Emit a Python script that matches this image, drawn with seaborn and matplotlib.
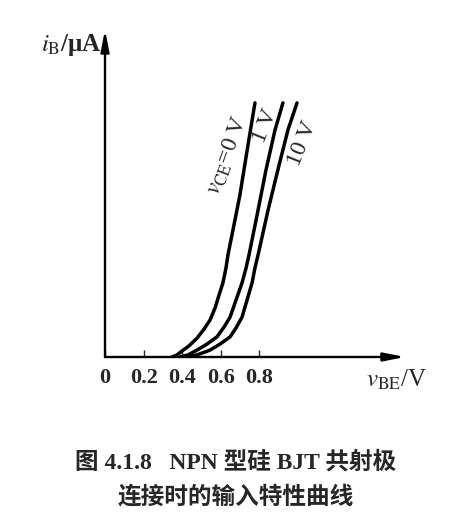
import numpy as np
import pandas as pd
import seaborn as sns
import matplotlib.pyplot as plt

sns.set_style('white')
plt.rcParams['font.family'] = ['Liberation Serif', 'Noto Sans CJK SC']
plt.rcParams['mathtext.fontset'] = 'stix'

# input characteristic curves (v_BE in V, i_B in arbitrary units)
v_ce0 = [0.347, 0.373, 0.399, 0.435, 0.477, 0.513, 0.544, 0.570, 0.591, 0.611,
         0.627, 0.637, 0.663, 0.699, 0.741, 0.777]
i_ce0 = [0.0, 0.7, 2.0, 3.7, 6.3, 9.3, 12.3, 16.3, 20.7, 24.7,
         29.7, 34.0, 42.3, 54.0, 70.7, 84.7]

v_ce1 = [0.389, 0.430, 0.477, 0.528, 0.580, 0.617, 0.648, 0.679, 0.710, 0.731,
         0.746, 0.788, 0.834, 0.881, 0.922]
i_ce1 = [0.0, 0.7, 2.3, 4.3, 6.7, 10.0, 13.3, 19.0, 24.7, 29.7,
         34.0, 47.3, 62.3, 75.7, 84.7]

v_ce10 = [0.425, 0.477, 0.544, 0.596, 0.648, 0.679, 0.710, 0.736, 0.762, 0.777,
          0.793, 0.845, 0.902, 0.948, 0.995]
i_ce10 = [0.0, 0.7, 2.3, 4.3, 6.7, 9.7, 13.3, 19.0, 24.7, 29.7,
          34.0, 49.0, 64.0, 75.7, 84.7]

x_ticks = [0, 0.2, 0.4, 0.6, 0.8]
x_ticklabels = ['0', '0.2', '0.4', '0.6', '0.8']

df = pd.concat([
    pd.DataFrame({'v': v_ce0, 'i': i_ce0, 'vce': '0'}),
    pd.DataFrame({'v': v_ce1, 'i': i_ce1, 'vce': '1'}),
    pd.DataFrame({'v': v_ce10, 'i': i_ce10, 'vce': '10'}),
])

fig = plt.figure(figsize=(4.72, 5.26), dpi=100)
ax = fig.add_axes([105 / 472, 1 - 357 / 526, 300 / 472, 327 / 526])

sns.lineplot(data=df, x='v', y='i', hue='vce', units='vce', estimator=None,
             sort=False, palette=['black'] * 3, linewidth=2.5, legend=False, ax=ax)

ax.set_xlim(0, 300 / 193)
ax.set_ylim(0, 109)
for s in ax.spines.values():
    s.set_visible(False)

# axes with arrow heads
arr = dict(arrowstyle='-|>,head_length=0.9,head_width=0.18', lw=1.7, color='black',
           shrinkA=0, shrinkB=0, mutation_scale=14)
ax.annotate('', xy=(1, 0), xytext=(0, 0), xycoords='axes fraction', arrowprops=arr)
ax.annotate('', xy=(0, 1), xytext=(0, 0), xycoords='axes fraction', arrowprops=arr)

ax.set_xticks(x_ticks)
ax.set_xticklabels(x_ticklabels, fontsize=16, fontweight='bold')
ax.set_yticks([])
ax.tick_params(axis='x', direction='in', length=5, width=1, pad=8, bottom=True)
ax.set_xlabel('')
ax.set_ylabel('')

# curve labels
ax.text(0.637, 67.3, r'$v_{\mathrm{CE}}$=0 V', rotation=70, fontsize=17,
        ha='center', va='center', rotation_mode='anchor')
ax.text(0.829, 77, '1 V', rotation=68, fontsize=17,
        ha='center', va='center', rotation_mode='anchor')
ax.text(1.026, 71.3, '10 V', rotation=68, fontsize=17,
        ha='center', va='center', rotation_mode='anchor')

# axis labels
fig.text(102 / 472, 1 - 45 / 526, r'$i_{\mathrm{B}}$/μA', fontsize=18,
         fontweight='bold', ha='right', va='center')
fig.text(397 / 472, 1 - 380 / 526, r'$v_{\mathrm{BE}}$/V', fontsize=18,
         ha='center', va='center')

# caption
fig.text(0.5, 1 - 462 / 526, '图 4.1.8   NPN 型硅 BJT 共射极', fontsize=17,
         fontweight='bold', ha='center', va='center')
fig.text(0.5, 1 - 497 / 526, '连接时的输入特性曲线', fontsize=17,
         fontweight='bold', ha='center', va='center')

plt.savefig('out.png', dpi=100)
